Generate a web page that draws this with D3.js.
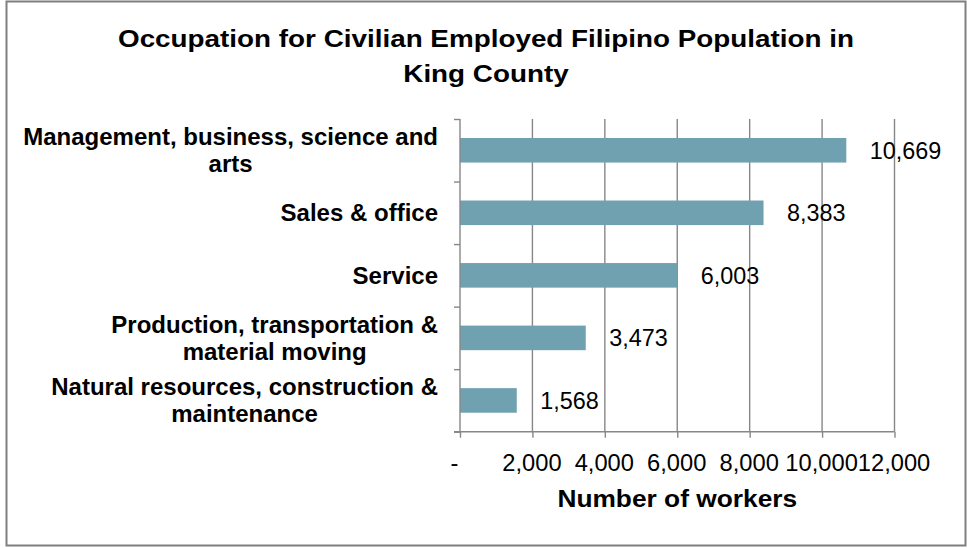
<!DOCTYPE html>
<html>
<head>
<meta charset="utf-8">
<script src="https://cdn.jsdelivr.net/npm/d3@7"></script>
<style>
  html, body { margin: 0; padding: 0; background: #ffffff; }
  svg { display: block; font-family: "Liberation Sans", Arial, sans-serif; }
</style>
</head>
<body>
<svg id="chart" width="967" height="548"></svg>
<script>
// Occupation categories, top to bottom, with line breaks for the axis labels
const categories = [
  "Management, business, science and\narts",
  "Sales & office",
  "Service",
  "Production, transportation &\nmaterial moving",
  "Natural resources, construction &\nmaintenance"
];
// Number of workers per occupation
const workers = [10669, 8383, 6003, 3473, 1568];
// Value axis ticks and their printed labels
const tickValues = [0, 2000, 4000, 6000, 8000, 10000, 12000];
const tickLabels = ["-", "2,000", "4,000", "6,000", "8,000", "10,000", "12,000"];
const titleLines = ["Occupation for Civilian Employed Filipino Population in", "King County"];
const axisTitle = "Number of workers";

const svg = d3.select("#chart");
const plot = { left: 460, right: 894.5, top: 119, bottom: 431.7 };
const gridColor = "#878787";
const barColor = "#6fa1b0";

// outer chart frame
svg.append("rect")
  .attr("x", 6.5).attr("y", 1.5)
  .attr("width", 959).attr("height", 544)
  .attr("fill", "#fff")
  .attr("stroke", "#7f7f7f")
  .attr("stroke-width", 2);

// title (two lines, bold, slightly wide)
const titleG = svg.append("g");
titleLines.forEach((t, i) => {
  titleG.append("text")
    .attr("transform", `translate(486, ${47.3 + i * 34.2}) scale(1.16, 1)`)
    .attr("text-anchor", "middle")
    .attr("font-weight", "bold")
    .attr("font-size", 24)
    .attr("fill", "#000")
    .text(t);
});

const x = d3.scaleLinear().domain([0, 12000]).range([plot.left, plot.right]);
const y = d3.scaleBand()
  .domain(categories)
  .range([plot.top, plot.bottom])
  .paddingInner(0.607)
  .paddingOuter(0.3035);

// vertical gridlines
svg.append("g")
  .selectAll("line")
  .data(tickValues.filter(d => d > 0))
  .join("line")
  .attr("x1", d => x(d)).attr("x2", d => x(d))
  .attr("y1", plot.top).attr("y2", plot.bottom)
  .attr("stroke", gridColor)
  .attr("stroke-width", 1.4);

// bars
svg.append("g")
  .selectAll("rect")
  .data(workers)
  .join("rect")
  .attr("x", x(0))
  .attr("y", (d, i) => y(categories[i]))
  .attr("width", d => x(d) - x(0))
  .attr("height", y.bandwidth())
  .attr("fill", barColor);

// bottom value axis
const xAxis = d3.axisBottom(x)
  .tickValues(tickValues)
  .tickSize(6)
  .tickPadding(16)
  .tickFormat((d, i) => tickLabels[i]);
const gx = svg.append("g")
  .attr("transform", `translate(0, ${plot.bottom})`)
  .call(xAxis);
gx.select(".domain").attr("stroke", gridColor).attr("stroke-width", 1.4)
  .attr("d", `M${plot.left - 6},0H${plot.right}`);
gx.selectAll(".tick line").attr("stroke", gridColor).attr("stroke-width", 1.4);
gx.selectAll(".tick text")
  .attr("font-family", "Liberation Sans, Arial, sans-serif")
  .attr("font-size", 23.7)
  .attr("fill", "#000")
  .attr("dx", (d, i) => i === 0 ? -6 : -1);

// left category axis: boundary ticks between the bands
const edges = d3.scaleLinear().domain([0, categories.length]).range([plot.bottom, plot.top]);
const gy = svg.append("g")
  .attr("transform", `translate(${plot.left}, 0)`)
  .call(d3.axisLeft(edges).ticks(categories.length).tickSize(6).tickFormat(""));
gy.select(".domain").attr("stroke", gridColor).attr("stroke-width", 1.4)
  .attr("d", `M0,${plot.top}V${plot.bottom}`);
gy.selectAll(".tick line").attr("stroke", gridColor).attr("stroke-width", 1.4);

// category labels: right-aligned block, lines centred on the widest line
const labelRight = 438;
const lineH = 26.7;
categories.forEach(c => {
  const lines = c.split("\n");
  const cy = y(c) + y.bandwidth() / 2;
  const g = svg.append("g");
  const texts = lines.map((ln, j) => g.append("text")
    .attr("y", cy + 8.3 - (lines.length - 1) * lineH / 2 + j * lineH)
    .attr("text-anchor", "middle")
    .attr("font-weight", "bold")
    .attr("font-size", 24)
    .attr("fill", "#000")
    .text(ln));
  const maxW = d3.max(texts, t => t.node().getComputedTextLength());
  texts.forEach(t => t.attr("x", labelRight - maxW / 2));
});

// value labels to the right of each bar
svg.append("g")
  .selectAll("text")
  .data(workers)
  .join("text")
  .attr("x", d => x(d) + 23.5)
  .attr("y", (d, i) => y(categories[i]) + y.bandwidth() / 2 + 8.3)
  .attr("font-size", 23.4)
  .attr("fill", "#000")
  .text(d => d3.format(",")(d));

// value axis title
svg.append("text")
  .attr("transform", `translate(${(plot.left + plot.right) / 2}, 506.7) scale(1.12, 1)`)
  .attr("text-anchor", "middle")
  .attr("font-weight", "bold")
  .attr("font-size", 23.5)
  .attr("fill", "#000")
  .text(axisTitle);
</script>
</body>
</html>
